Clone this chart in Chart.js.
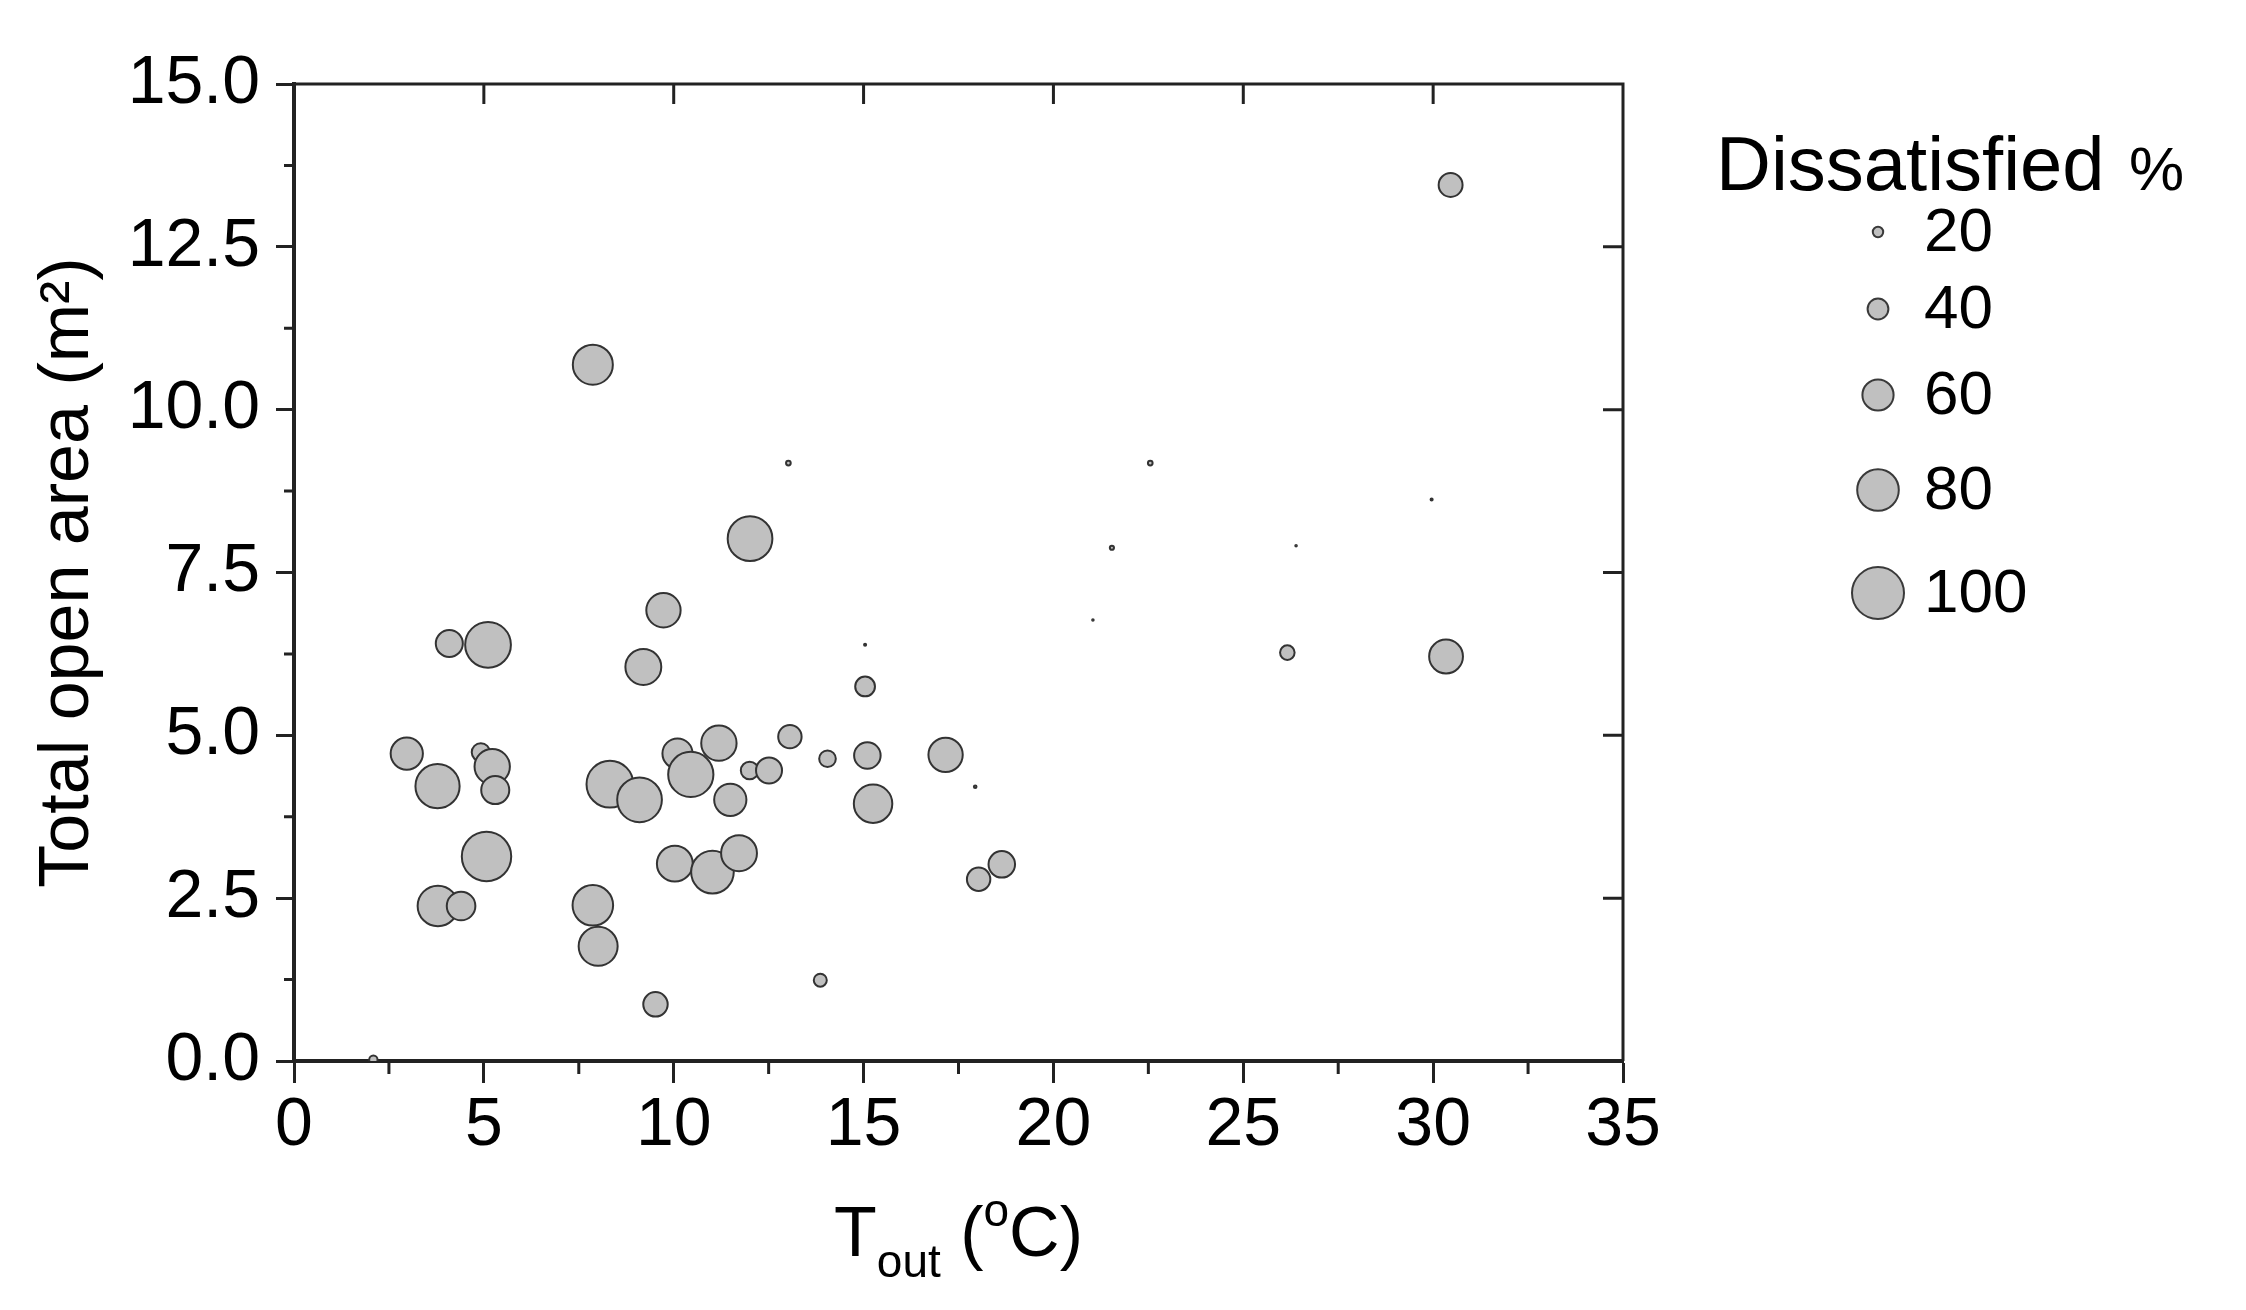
<!DOCTYPE html>
<html>
<head>
<meta charset="utf-8">
<title>Total open area vs T_out</title>
<script src="https://cdn.jsdelivr.net/npm/chart.js@4.4.1/dist/chart.umd.min.js"></script>
<style>
    html, body { margin: 0; padding: 0; background: #fff; }
    #wrap { width: 2246px; height: 1310px; position: relative; }
</style>
</head>
<body>
<div id="wrap"><canvas id="bubbleChart"></canvas></div>
<script>
// 외기온도 (°C)
const tOut = [
    2.97, 3.78, 4.92, 5.22, 5.30, 5.07, 3.79, 4.40,
    8.32, 9.10, 7.87, 8.01, 9.52, 10.10, 10.45, 11.19,
    11.49, 12.00, 12.51, 13.06, 14.05, 15.10, 15.25, 17.16,
    17.94, 18.03, 18.64, 10.03, 11.02, 11.72, 13.86, 2.09,
    7.87, 13.02, 12.01, 9.73, 4.09, 5.11, 9.20, 15.04,
    15.04, 22.55, 21.54, 26.39, 21.04, 26.16, 30.46, 29.96, 30.34
];

// 전체 개구 면적 (m2)
const openArea = [
    4.72, 4.22, 4.74, 4.52, 4.16, 3.14, 2.38, 2.38,
    4.25, 4.01, 2.39, 1.76, 0.87, 4.72, 4.40, 4.88,
    4.01, 4.46, 4.46, 4.98, 4.64, 4.69, 3.95, 4.70,
    4.21, 2.79, 3.02, 3.03, 2.90, 3.19, 1.24, 0.02,
    10.69, 9.18, 8.02, 6.92, 6.41, 6.39, 6.05, 6.39,
    5.75, 9.18, 7.88, 7.91, 6.77, 6.27, 13.45, 8.62, 6.21
];

// 불만족 비율 (%) -> 버블 크기
const dissatisfied = [
    62, 85, 35, 68, 54, 95, 78, 55,
    90, 86, 78, 75, 47, 58, 87, 68,
    62, 34, 50, 45, 32, 51, 74, 66,
    5, 45, 51, 69, 82, 69, 25, 16,
    77, 9, 86, 66, 52, 88, 69, 4,
    38, 9, 8, 3, 3, 28, 46, 4, 65
];

const xTicks = [0, 5, 10, 15, 20, 25, 30, 35];
const yTicks = [0, 2.5, 5, 7.5, 10, 12.5, 15];
const legendSizes = [20, 40, 60, 80, 100];

const FONT = "'Liberation Sans', Arial, sans-serif";
const INK = '#222';

// 버블 반지름 (px)
function bubbleRadius(pct) {
    return pct * 0.26;
}

function midpoints(arr) {
    return arr.slice(1).map((v, i) => (v + arr[i]) / 2);
}

// 위/오른쪽 테두리, 안쪽 눈금, 보조 눈금
const framePlugin = {
    id: 'frame',
    afterDatasetsDraw(chart) {
        const { ctx, chartArea: a, scales: { x, y } } = chart;
        ctx.save();
        ctx.strokeStyle = INK;
        ctx.lineWidth = 3;
        ctx.beginPath();
        ctx.moveTo(a.left, a.top);
        ctx.lineTo(a.right, a.top);
        ctx.lineTo(a.right, a.bottom);
        xTicks.slice(1, -1).forEach(v => {
            const px = x.getPixelForValue(v);
            ctx.moveTo(px, a.top);
            ctx.lineTo(px, a.top + 20);
        });
        yTicks.slice(1, -1).forEach(v => {
            const py = y.getPixelForValue(v);
            ctx.moveTo(a.right, py);
            ctx.lineTo(a.right - 20, py);
        });
        midpoints(xTicks).forEach(v => {
            const px = x.getPixelForValue(v);
            ctx.moveTo(px, a.bottom);
            ctx.lineTo(px, a.bottom + 13);
        });
        midpoints(yTicks).forEach(v => {
            const py = y.getPixelForValue(v);
            ctx.moveTo(a.left, py);
            ctx.lineTo(a.left - 10, py);
        });
        ctx.stroke();
        ctx.restore();
    }
};

// x축 제목 (아래첨자) + 크기 범례
const annotatePlugin = {
    id: 'annotate',
    afterDraw(chart) {
        const { ctx, chartArea: a } = chart;
        ctx.save();
        ctx.fillStyle = '#000';
        ctx.textBaseline = 'alphabetic';
        ctx.textAlign = 'left';

        // T_out (°C)
        const big = '70px ' + FONT;
        const small = '46px ' + FONT;
        const parts = [
            { t: 'T', f: big, dy: 0 },
            { t: 'out', f: small, dy: 21 },
            { t: ' (', f: big, dy: 0 },
            { t: 'o', f: small, dy: -30 },
            { t: 'C)', f: big, dy: 0 }
        ];
        let total = 0;
        parts.forEach(p => { ctx.font = p.f; p.w = ctx.measureText(p.t).width; total += p.w; });
        let cx = (a.left + a.right) / 2 - total / 2;
        const base = 1256;
        parts.forEach(p => {
            ctx.font = p.f;
            ctx.fillText(p.t, cx, base + p.dy);
            cx += p.w;
        });

        // 범례 제목
        ctx.font = '76px ' + FONT;
        ctx.fillText('Dissatisfied', 1716, 190);
        ctx.font = '62px ' + FONT;
        ctx.fillText('%', 2129, 190);

        // 범례 항목
        const rowY = [232, 309, 395, 490, 593];
        legendSizes.forEach((v, i) => {
            ctx.beginPath();
            ctx.arc(1878, rowY[i], bubbleRadius(v), 0, Math.PI * 2);
            ctx.fillStyle = '#c0c0c0';
            ctx.fill();
            ctx.lineWidth = 2;
            ctx.strokeStyle = '#3a3a3a';
            ctx.stroke();
            ctx.fillStyle = '#000';
            ctx.font = '62px ' + FONT;
            ctx.textBaseline = 'middle';
            ctx.fillText(String(v), 1924, rowY[i] + 2);
        });
        ctx.restore();
    }
};

function initChart() {
    const ctx = document.getElementById('bubbleChart').getContext('2d');
    new Chart(ctx, {
        type: 'bubble',
        data: {
            datasets: [{
                label: 'Dissatisfied %',
                data: tOut.map((t, i) => ({ x: t, y: openArea[i], r: bubbleRadius(dissatisfied[i]) })),
                backgroundColor: '#c0c0c0',
                borderColor: '#333',
                borderWidth: 2,
                clip: 0
            }]
        },
        options: {
            responsive: true,
            maintainAspectRatio: false,
            animation: false,
            events: [],
            layout: {
                padding: { top: 84, right: 623, bottom: 0, left: 0 }
            },
            plugins: {
                legend: { display: false },
                tooltip: { enabled: false }
            },
            scales: {
                x: {
                    type: 'linear',
                    min: 0,
                    max: 35,
                    afterBuildTicks: s => { s.ticks = xTicks.map(v => ({ value: v })); },
                    afterFit: s => { s.height = 249; },
                    grid: {
                        drawOnChartArea: false,
                        drawTicks: true,
                        tickLength: 22,
                        tickWidth: 3,
                        tickColor: INK
                    },
                    border: { display: true, width: 4, color: INK },
                    ticks: {
                        color: '#000',
                        padding: 2,
                        maxRotation: 0,
                        font: { family: FONT, size: 68 },
                        callback: v => String(v)
                    },
                    title: { display: false }
                },
                y: {
                    type: 'linear',
                    min: 0,
                    max: 15,
                    afterBuildTicks: s => { s.ticks = yTicks.map(v => ({ value: v })); },
                    afterFit: s => { s.width = 294; },
                    grid: {
                        drawOnChartArea: false,
                        drawTicks: true,
                        tickLength: 18,
                        tickWidth: 3,
                        tickColor: INK
                    },
                    border: { display: true, width: 4, color: INK },
                    ticks: {
                        color: '#000',
                        padding: 16,
                        font: { family: FONT, size: 68 },
                        callback: v => v.toFixed(1)
                    },
                    title: {
                        display: true,
                        text: 'Total open area (m²)',
                        color: '#000',
                        padding: { top: 27, bottom: 0 },
                        font: { family: FONT, size: 70 }
                    }
                }
            }
        },
        plugins: [framePlugin, annotatePlugin]
    });
}

document.addEventListener('DOMContentLoaded', () => {
    initChart();
});
</script>
</body>
</html>
